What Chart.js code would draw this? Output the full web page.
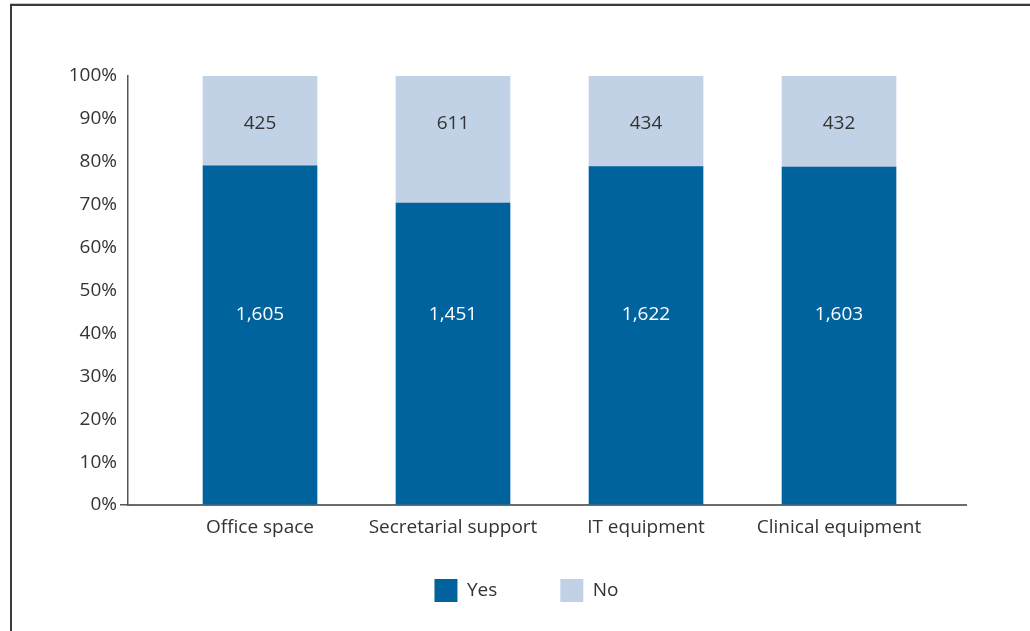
<!DOCTYPE html>
<html>
<head>
<meta charset="utf-8">
<script src="https://cdn.jsdelivr.net/npm/chart.js@4/dist/chart.umd.min.js"></script>
<style>
  html, body { margin: 0; padding: 0; background: #fff; }
  #wrap { position: relative; width: 1030px; height: 631px; overflow: hidden; }
  #frame {
    position: absolute; left: 10px; top: 4px; width: 1100px; height: 700px;
    border-top: 2px solid #3a3a3a; border-left: 2px solid #3a3a3a;
    box-shadow: 0 -1px 0 #c8c8c8;
  }
  canvas { position: absolute; left: 0; top: 0; }
</style>
</head>
<body>
<div id="wrap">
  <div id="frame"></div>
  <canvas id="chart" width="1030" height="631"></canvas>
</div>
<script>
// Respondents reporting access to each resource
const categories = ['Office space', 'Secretarial support', 'IT equipment', 'Clinical equipment'];
const yesCounts = [1605, 1451, 1622, 1603];
const noCounts = [425, 611, 434, 432];
const yTicks = [0, 10, 20, 30, 40, 50, 60, 70, 80, 90, 100];

const YES_COLOR = '#00639d';
const NO_COLOR = '#c1d1e6';
const TEXT_COLOR = '#333333';
const FONT = "'Open Sans', 'Noto Sans', sans-serif";
const FONT_SIZE = 19;

// Share of each answer within its category, in percent
const totals = categories.map((_, i) => yesCounts[i] + noCounts[i]);
const yesShare = yesCounts.map((v, i) => v / totals[i] * 100);
const noShare = noCounts.map((v, i) => v / totals[i] * 100);

const toPoints = arr => arr.map((v, i) => ({ x: i, y: v }));

// Writes the count of each segment onto the bar
const countLabels = {
  id: 'countLabels',
  afterDatasetsDraw(chart, args, opts) {
    const ctx = chart.ctx;
    const yScale = chart.scales.y;
    ctx.save();
    ctx.font = `${FONT_SIZE}px ${FONT}`;
    ctx.textAlign = 'center';
    ctx.textBaseline = 'middle';
    chart.data.datasets.forEach((ds, di) => {
      const meta = chart.getDatasetMeta(di);
      const y = yScale.getPixelForValue(opts.levels[di]);
      meta.data.forEach((bar, i) => {
        ctx.fillStyle = opts.colors[di];
        ctx.fillText(ds.counts[i].toLocaleString('en-US'), bar.x, y);
      });
    });
    ctx.restore();
  }
};

new Chart(document.getElementById('chart'), {
  type: 'bar',
  data: {
    datasets: [
      { label: 'Yes', data: toPoints(yesShare), counts: yesCounts, backgroundColor: YES_COLOR },
      { label: 'No', data: toPoints(noShare), counts: noCounts, backgroundColor: NO_COLOR }
    ]
  },
  plugins: [countLabels],
  options: {
    responsive: false,
    animation: false,
    barThickness: 114,
    layout: { padding: { left: 66, right: 43, top: 76, bottom: 19 } },
    plugins: {
      tooltip: { enabled: false },
      legend: {
        position: 'bottom',
        labels: {
          boxWidth: 23,
          boxHeight: 23,
          padding: 63,
          color: TEXT_COLOR,
          font: { family: FONT, size: FONT_SIZE }
        }
      },
      countLabels: { levels: [44.4, 88.8], colors: ['#ffffff', TEXT_COLOR] }
    },
    scales: {
      x: {
        type: 'linear',
        stacked: true,
        offset: false,
        min: -0.684,
        max: 3.658,
        afterBuildTicks: scale => {
          scale.ticks = categories.map((_, i) => ({ value: i }));
        },
        // labels hang below the axis line; the legend sits just under them
        afterFit: scale => { scale.height = 11; },
        grid: { display: false, drawTicks: false },
        border: { color: '#6b6b6b', width: 2 },
        ticks: {
          mirror: true,
          padding: -34,
          autoSkip: false,
          maxRotation: 0,
          color: TEXT_COLOR,
          font: { family: FONT, size: FONT_SIZE },
          callback: v => categories[v]
        }
      },
      y: {
        stacked: true,
        min: 0,
        max: 100,
        afterBuildTicks: scale => {
          scale.ticks = yTicks.map(v => ({ value: v }));
        },
        afterFit: scale => { scale.width = 62; },
        grid: {
          drawOnChartArea: false,
          drawTicks: true,
          tickLength: 8,
          lineWidth: 1.5,
          color: c => (c.tick && c.tick.value === 0 ? '#555555' : 'rgba(0,0,0,0)')
        },
        border: { color: '#555555', width: 1.5 },
        ticks: {
          padding: 3,
          color: TEXT_COLOR,
          font: { family: FONT, size: FONT_SIZE },
          callback: v => v + '%'
        }
      },
      // blank margin on the right of the plot
      rightMargin: {
        type: 'linear',
        position: 'right',
        afterFit: scale => { scale.width = 21; },
        grid: { display: false },
        border: { display: false },
        ticks: { display: false }
      }
    }
  }
});
</script>
</body>
</html>
